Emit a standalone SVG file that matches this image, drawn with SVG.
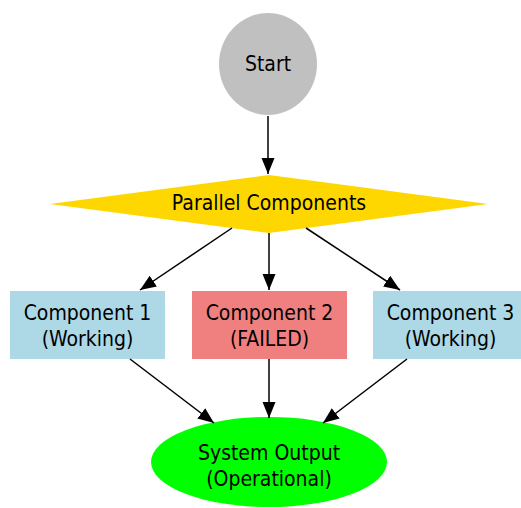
<svg xmlns="http://www.w3.org/2000/svg" width="521" height="508" viewBox="0 0 521 508">
<style>
text { font-family: "DejaVu Sans Condensed", "DejaVu Sans", sans-serif; font-stretch: condensed; font-size: 21px; fill: #000; text-anchor: middle; }
.edge { stroke: #000; stroke-width: 1.5; fill: none; marker-end: url(#arrow); }
</style>
<defs>
<marker id="arrow" markerUnits="userSpaceOnUse" markerWidth="18" markerHeight="14" refX="16" refY="6.5" orient="auto">
<path d="M0,0 L16,6.5 L0,13 Z" fill="#000"/>
</marker>
</defs>
<rect width="521" height="508" fill="#fff"/>
<g id="start">
<ellipse cx="268" cy="64" rx="49" ry="51" fill="#c0c0c0"/>
<text x="268" y="71">Start</text>
</g>
<g id="parallel">
<polygon points="50,204 269,175 488,204 269,233" fill="#ffd700"/>
<text x="269" y="210">Parallel Components</text>
</g>
<g id="comp1">
<rect x="10" y="291" width="155" height="68" fill="#add8e6"/>
<text x="87.5" y="320">Component 1</text>
<text x="87.5" y="346">(Working)</text>
</g>
<g id="comp2">
<rect x="192" y="291" width="155" height="68" fill="#f08080"/>
<text x="269.5" y="320">Component 2</text>
<text x="269.5" y="346">(FAILED)</text>
</g>
<g id="comp3">
<rect x="373" y="291" width="155" height="68" fill="#add8e6"/>
<text x="450.5" y="320">Component 3</text>
<text x="450.5" y="346">(Working)</text>
</g>
<g id="output">
<ellipse cx="269" cy="462" rx="118" ry="45" fill="#00ff00"/>
<text x="269" y="460">System Output</text>
<text x="269" y="486">(Operational)</text>
</g>
<g id="edges">
<line class="edge" x1="268" y1="116" x2="268" y2="174"/>
<line class="edge" x1="232" y1="228" x2="140" y2="290"/>
<line class="edge" x1="269" y1="233" x2="269" y2="290"/>
<line class="edge" x1="306" y1="228" x2="400" y2="290"/>
<line class="edge" x1="130" y1="359" x2="214" y2="423"/>
<line class="edge" x1="269" y1="359" x2="269" y2="418"/>
<line class="edge" x1="407" y1="359" x2="323" y2="423"/>
</g>
</svg>
